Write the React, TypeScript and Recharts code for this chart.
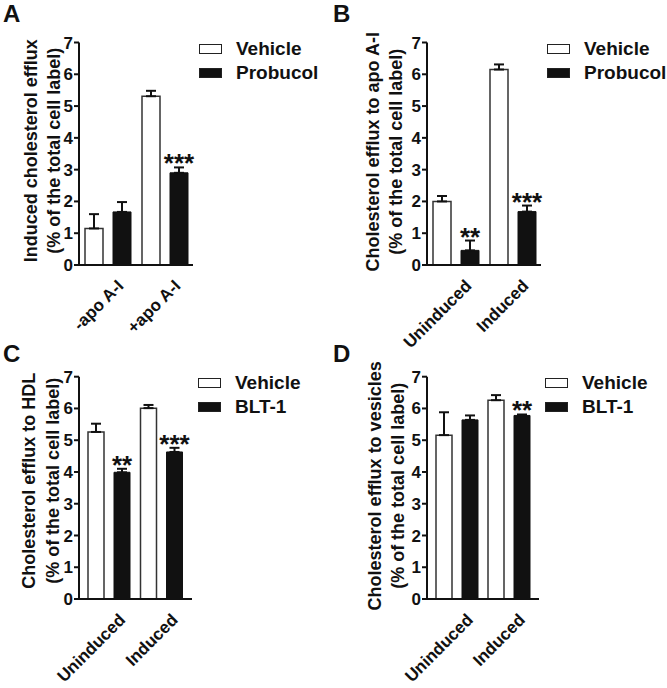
import { BarChart, Bar, XAxis, YAxis, ErrorBar, LabelList, Legend } from 'recharts';

const FONT = '"Liberation Sans", Arial, Helvetica, sans-serif';
const INK = '#111111';

const yTicks = [0, 1, 2, 3, 4, 5, 6, 7];

// panel A
const catsA = ['-apo A-I', '+apo A-I'];
const vehA = [1.15, 5.31];
const vehErrA = [0.45, 0.17];
const probA = [1.67, 2.9];
const probErrA = [0.31, 0.17];
const sigVehA = ['', ''];
const sigProbA = ['', '***'];

// panel B
const catsB = ['Uninduced', 'Induced'];
const vehB = [2.0, 6.15];
const vehErrB = [0.17, 0.16];
const probB = [0.46, 1.68];
const probErrB = [0.31, 0.19];
const sigVehB = ['', ''];
const sigProbB = ['**', '***'];

// panel C
const catsC = ['Uninduced', 'Induced'];
const vehC = [5.26, 6.01];
const vehErrC = [0.26, 0.1];
const bltC = [3.99, 4.63];
const bltErrC = [0.11, 0.13];
const sigVehC = ['', ''];
const sigBltC = ['**', '***'];

// panel D
const catsD = ['Uninduced', 'Induced'];
const vehD = [5.16, 6.26];
const vehErrD = [0.72, 0.16];
const bltD = [5.64, 5.78];
const bltErrD = [0.14, 0.03];
const sigVehD = ['', ''];
const sigBltD = ['', '**'];

function starLabel(vals: number[], errs: number[]) {
  return (props: any) => {
    const vb = props.viewBox || {};
    const x = Number(vb.x ?? props.x);
    const y = Number(vb.y ?? props.y);
    const w = Number(vb.width ?? props.width);
    const h = Number(vb.height ?? props.height);
    const i = props.index;
    if (!props.value) return null;
    const capY = y - errs[i] * (h / vals[i]);
    return (
      <text x={x + w / 2} y={capY + 5} textAnchor="middle" fontSize={26} fontWeight="bold" fontFamily={FONT} fill={INK}>
        {props.value}
      </text>
    );
  };
}

function XTick(props: any) {
  const ax = Number(props.x) + 17;
  const ay = Number(props.y) + 22;
  return (
    <g transform={`translate(${ax},${ay}) rotate(-45)`}>
      <text x={0} y={0} textAnchor="end" fontSize={17} fontWeight="bold" fontFamily={FONT} fill={INK}>
        {props.payload.value}
      </text>
    </g>
  );
}

interface PanelProps {
  left: number;
  top: number;
  cats: string[];
  veh: number[];
  vehErr: number[];
  trt: number[];
  trtErr: number[];
  sigVeh: string[];
  sigTrt: string[];
  trtName: string;
  title: [string, string];
  titleX: [number, number];
  titleDy: number;
  plotLeft: number;
  plotRight: number;
  plotTop: number;
  plotBottom: number;
  pad: number;
  barSize: number;
}

const W = 333;
const H = 360;
const YW = 40;
const XH = 60;

function Panel(p: PanelProps) {
  const data = p.cats.map((c, i) => ({
    cat: c,
    veh: p.veh[i],
    vehErr: [0, p.vehErr[i]],
    trt: p.trt[i],
    trtErr: [0, p.trtErr[i]],
    vehSig: p.sigVeh[i],
    trtSig: p.sigTrt[i],
  }));
  const names = ['Vehicle', p.trtName];
  return (
    <div style={{ position: 'absolute', left: p.left, top: p.top }}>
      <BarChart
        width={W}
        height={H}
        data={data}
        barSize={p.barSize}
        barGap={10}
        margin={{ top: p.plotTop, left: p.plotLeft - YW, right: W - p.plotRight, bottom: H - p.plotBottom - XH }}
      >
        <XAxis
          dataKey="cat"
          height={XH}
          interval={0}
          tickSize={0}
          tickMargin={0}
          tickLine={false}
          padding={{ left: p.pad, right: p.pad }}
          axisLine={{ stroke: INK, strokeWidth: 2 }}
          tick={<XTick />}
        />
        <YAxis
          width={YW}
          domain={[0, 7]}
          ticks={yTicks}
          interval={0}
          tickSize={5}
          tickMargin={1}
          axisLine={{ stroke: INK, strokeWidth: 2 }}
          tickLine={{ stroke: INK, strokeWidth: 2 }}
          tick={{ fontSize: 17, fontWeight: 'bold', fontFamily: FONT, fill: INK }}
          label={{
            content: (lp: any) => {
              const vb = lp.viewBox;
              const px = vb.x + vb.width;
              const cy = vb.y + vb.height / 2 + p.titleDy;
              return (
                <g fontSize={18} fontWeight="bold" fontFamily={FONT} fill={INK}>
                  {p.title.map((t, k) => (
                    <text
                      key={k}
                      x={px + p.titleX[k]}
                      y={cy}
                      textAnchor="middle"
                      dominantBaseline="central"
                      transform={`rotate(-90, ${px + p.titleX[k]}, ${cy})`}
                    >
                      {t}
                    </text>
                  ))}
                </g>
              );
            },
          }}
        />
        <Legend
          layout="vertical"
          align="center"
          verticalAlign="middle"
          wrapperStyle={{ left: p.plotRight + 6, top: p.plotTop - 6, width: 130 }}
          content={() => (
            <div style={{ fontFamily: FONT, fontWeight: 'bold', fontSize: 19, color: INK }}>
              {names.map((n, k) => (
                <div key={n} style={{ display: 'flex', alignItems: 'center', height: 24 }}>
                  <span
                    style={{
                      display: 'inline-block',
                      width: 21,
                      height: 8,
                      border: '1.5px solid #222',
                      background: k === 0 ? '#ffffff' : INK,
                      marginRight: 14,
                    }}
                  />
                  <span>{n}</span>
                </div>
              ))}
            </div>
          )}
        />
        <Bar dataKey="veh" name="Vehicle" fill="#ffffff" stroke="#333333" strokeWidth={1.5} isAnimationActive={false}>
          <ErrorBar dataKey="vehErr" width={5} stroke={INK} strokeWidth={2} direction="y" />
          <LabelList dataKey="vehSig" content={starLabel(p.veh, p.vehErr)} />
        </Bar>
        <Bar dataKey="trt" name={p.trtName} fill={INK} stroke={INK} strokeWidth={1} isAnimationActive={false}>
          <ErrorBar dataKey="trtErr" width={5} stroke={INK} strokeWidth={2} direction="y" />
          <LabelList dataKey="trtSig" content={starLabel(p.trt, p.trtErr)} />
        </Bar>
      </BarChart>
    </div>
  );
}

const letterStyle = (left: number, top: number) => ({
  position: 'absolute' as const,
  left,
  top,
  fontFamily: FONT,
  fontWeight: 'bold' as const,
  fontSize: 24,
  lineHeight: '24px',
  color: INK,
});

export default function App() {
  return (
    <div style={{ position: 'absolute', left: 0, top: 0, width: 667, height: 688, background: '#ffffff', overflow: 'hidden' }}>
      <Panel
        left={0}
        top={0}
        cats={catsA}
        veh={vehA}
        vehErr={vehErrA}
        trt={probA}
        trtErr={probErrA}
        sigVeh={sigVehA}
        sigTrt={sigProbA}
        trtName="Probucol"
        title={['Induced cholesterol efflux', '(% of the total cell label)']}
        titleX={[-48, -25]}
        titleDy={-3}
        plotLeft={79}
        plotRight={193}
        plotTop={42.5}
        plotBottom={265}
        pad={0}
        barSize={18}
      />
      <Panel
        left={333}
        top={0}
        cats={catsB}
        veh={vehB}
        vehErr={vehErrB}
        trt={probB}
        trtErr={probErrB}
        sigVeh={sigVehB}
        sigTrt={sigProbB}
        trtName="Probucol"
        title={['Cholesterol efflux to apo A-I', '(% of the total cell label)']}
        titleX={[-54, -31]}
        titleDy={-2}
        plotLeft={94}
        plotRight={208}
        plotTop={42.5}
        plotBottom={265}
        pad={0}
        barSize={18}
      />
      <Panel
        left={0}
        top={330}
        cats={catsC}
        veh={vehC}
        vehErr={vehErrC}
        trt={bltC}
        trtErr={bltErrC}
        sigVeh={sigVehC}
        sigTrt={sigBltC}
        trtName="BLT-1"
        title={['Cholesterol efflux to HDL', '(% of the total cell label)']}
        titleX={[-50, -26]}
        titleDy={-7}
        plotLeft={79}
        plotRight={192}
        plotTop={46.7}
        plotBottom={269}
        pad={4}
        barSize={16}
      />
      <Panel
        left={333}
        top={330}
        cats={catsD}
        veh={vehD}
        vehErr={vehErrD}
        trt={bltD}
        trtErr={bltErrD}
        sigVeh={sigVehD}
        sigTrt={sigBltD}
        trtName="BLT-1"
        title={['Cholesterol efflux to vesicles', '(% of the total cell label)']}
        titleX={[-52, -29]}
        titleDy={-2}
        plotLeft={94}
        plotRight={206}
        plotTop={46.7}
        plotBottom={269}
        pad={4}
        barSize={16}
      />
      <div style={letterStyle(3, 2)}>A</div>
      <div style={letterStyle(333, 2)}>B</div>
      <div style={letterStyle(3, 342)}>C</div>
      <div style={letterStyle(333, 342)}>D</div>
    </div>
  );
}
